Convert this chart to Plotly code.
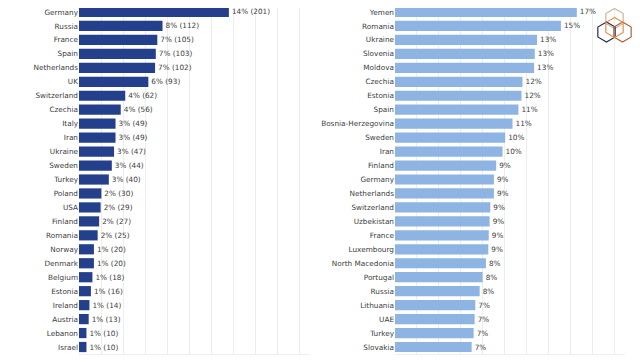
import math
import plotly.graph_objects as go

# Left panel: counts per country (labels show share of total and count)
left_countries = ["Germany", "Russia", "France", "Spain", "Netherlands", "UK", "Switzerland",
                  "Czechia", "Italy", "Iran", "Ukraine", "Sweden", "Turkey", "Poland", "USA",
                  "Finland", "Romania", "Norway", "Denmark", "Belgium", "Estonia", "Ireland",
                  "Austria", "Lebanon", "Israel"]
left_counts = [201, 112, 105, 103, 102, 93, 62, 56, 49, 49, 47, 44, 40, 30, 29, 27, 25,
               20, 20, 18, 16, 14, 13, 10, 10]
total_respondents = 1475

# Right panel: percentage per country
right_countries = ["Yemen", "Romania", "Ukraine", "Slovenia", "Moldova", "Czechia", "Estonia",
                   "Spain", "Bosnia-Herzegovina", "Sweden", "Iran", "Finland", "Germany",
                   "Netherlands", "Switzerland", "Uzbekistan", "France", "Luxembourg",
                   "North Macedonia", "Portugal", "Russia", "Lithuania", "UAE", "Turkey",
                   "Slovakia"]
right_pct = [16.6, 15.15, 12.97, 12.76, 12.7, 11.64, 11.55, 11.27, 10.73, 10.06, 9.82, 9.24,
             9.03, 9.03, 8.7, 8.64, 8.56, 8.52, 8.3, 8.0, 7.73, 7.33, 7.27, 7.18, 7.0]

left_pct = [c / total_respondents * 100 for c in left_counts]

FONT = "DejaVu Sans"
FS = 7.3
TXT = "#404040"
# the page body has an 8px margin, so the figure sits at (8, 8)
OX, OY = 8, 8
W, H = 632, 352


def fx(px):
    return (px - OX) / W


def fy(py):
    return 1 - (py - OY) / H


fig = go.Figure()
fig.add_trace(go.Bar(
    x=left_pct, y=left_countries, orientation="h", customdata=left_counts,
    marker=dict(color="#243f8c", line=dict(width=0)),
    texttemplate="%{x:.0f}% (%{customdata})", textposition="outside",
    textfont=dict(family=FONT, size=FS, color=TXT), constraintext="none",
    cliponaxis=False, xaxis="x", yaxis="y", hoverinfo="skip"))
fig.add_trace(go.Bar(
    x=right_pct, y=right_countries, orientation="h",
    marker=dict(color="#8db4e2", line=dict(width=0)),
    texttemplate="%{x:.0f}%", textposition="outside",
    textfont=dict(family=FONT, size=FS, color=TXT), constraintext="none",
    cliponaxis=False, xaxis="x2", yaxis="y2", hoverinfo="skip"))

ydom = [max(0, fy(354)), min(1, fy(8))]
xcommon = dict(range=[0, 21], dtick=2, showgrid=True, gridcolor="#ededed", gridwidth=1,
               showticklabels=False, zeroline=False, showline=True, linecolor="#f0f0f0",
               ticks="", fixedrange=True)
ycommon = dict(type="category", showgrid=False, zeroline=False, showline=False, ticks="",
               tickfont=dict(family=FONT, size=FS, color=TXT), automargin=False,
               fixedrange=True)

n = len(left_countries)
# plot area spans y 5..354 in the reference; the top 3px are above the figure,
# so the range is trimmed proportionally at the top
row_h = (354 - 5) / n
top_cut = (8 - 5) / row_h

fig.update_layout(
    width=W, height=H, margin=dict(l=0, r=0, t=0, b=0),
    paper_bgcolor="white", plot_bgcolor="white", showlegend=False, bargap=0.27,
    font=dict(family=FONT, size=FS, color=TXT),
    xaxis=dict(domain=[fx(79), fx(310)], anchor="y", **xcommon),
    xaxis2=dict(domain=[fx(395), fx(625)], anchor="y2", **xcommon),
    yaxis=dict(domain=ydom, anchor="x", range=[n - 0.5, -0.5 + top_cut],
               categoryorder="array", categoryarray=left_countries, **ycommon),
    yaxis2=dict(domain=ydom, anchor="x2", range=[n - 0.5, -0.5 + top_cut],
                categoryorder="array", categoryarray=right_countries, **ycommon),
)


# Decorative hexagon logo (top right)
def hex_path(cx, cy, r):
    pts = []
    for k in range(6):
        a = math.radians(90 + 60 * k)
        pts.append((fx(cx + r * math.cos(a)), fy(cy - r * math.sin(a))))
    return "M " + " L ".join(f"{x:.5f},{y:.5f}" for x, y in pts) + " Z"


for cx, cy, col in [(614.5, 18.5, "#cdb69c"), (606.5, 32, "#2d2b50"),
                    (622.5, 32, "#b0603c"), (614.5, 27.5, "#e3924a")]:
    fig.add_shape(type="path", path=hex_path(cx, cy, 10), xref="paper", yref="paper",
                  line=dict(color=col, width=1.2), fillcolor="rgba(0,0,0,0)")

fig.write_html("out.html")
